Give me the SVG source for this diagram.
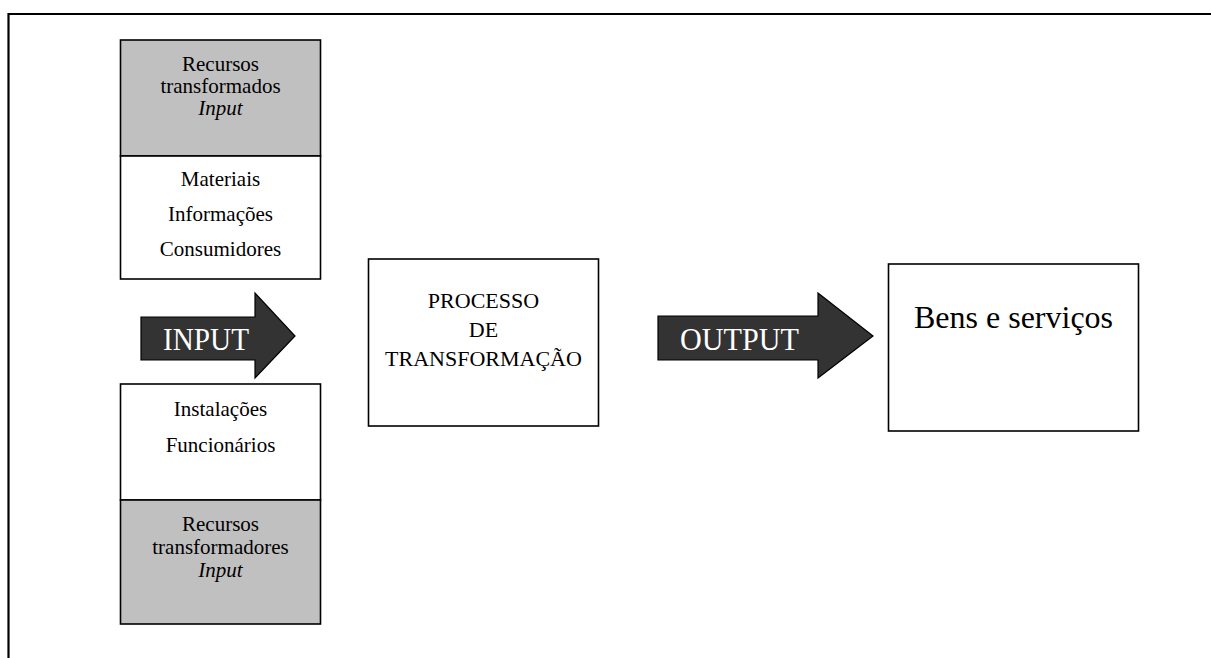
<svg xmlns="http://www.w3.org/2000/svg" width="1211" height="658" viewBox="0 0 1211 658" font-family="'Liberation Serif', 'DejaVu Serif', serif">
<style>
.box{stroke:#000;stroke-width:1.6;}
.w{fill:#fff;}
.g{fill:#c0c0c0;}
.arrow{fill:#333;stroke:#000;stroke-width:1.2;stroke-linejoin:miter;}
text{font-family:'Liberation Serif','DejaVu Serif',serif;fill:#000;text-anchor:middle;}
.s{font-size:21px;}
.m{font-size:22px;}
.big{font-size:32px;}
.lbl{font-size:32px;fill:#fff;text-anchor:start;}
</style>
<rect width="1211" height="658" fill="#fff"/>
<g id="frame">
<path d="M8.5,658 V14 H1211" fill="none" stroke="#000" stroke-width="2.2"/>
</g>
<g id="transformed-resources">
<rect class="box g" x="120.5" y="40" width="200" height="116"/>
<rect class="box w" x="120.5" y="156" width="200" height="123"/>
<text class="s" x="220.5" y="71">Recursos</text>
<text class="s" x="220.5" y="93">transformados</text>
<text class="s" x="220.5" y="115" font-style="italic">Input</text>
<text class="s" x="220.5" y="186">Materiais</text>
<text class="s" x="220.5" y="221">Informações</text>
<text class="s" x="220.5" y="256">Consumidores</text>
</g>
<g id="transforming-resources">
<rect class="box w" x="120.5" y="384" width="200" height="116"/>
<rect class="box g" x="120.5" y="500" width="200" height="124"/>
<text class="s" x="220.5" y="416">Instalações</text>
<text class="s" x="220.5" y="452">Funcionários</text>
<text class="s" x="220.5" y="531">Recursos</text>
<text class="s" x="220.5" y="554">transformadores</text>
<text class="s" x="220.5" y="577" font-style="italic">Input</text>
</g>
<g id="process">
<rect class="box w" x="368.5" y="259" width="230" height="167"/>
<text class="m" x="483.5" y="308">PROCESSO</text>
<text class="m" x="483.5" y="337">DE</text>
<text class="m" x="483.5" y="366">TRANSFORMAÇÃO</text>
</g>
<g id="goods">
<rect class="box w" x="888.5" y="264" width="250" height="167"/>
<text class="big" x="1013.5" y="328">Bens e serviços</text>
</g>
<g id="connectors">
<g id="input-arrow">
<path class="arrow" d="M141,317 H255 V293 L295,336 L255,378 V360 H141 Z"/>
<text class="lbl" x="163" y="350" textLength="86" lengthAdjust="spacingAndGlyphs">INPUT</text>
</g>
<g id="output-arrow">
<path class="arrow" d="M658,316 H818 V293 L873,336 L818,378 V360 H658 Z"/>
<text class="lbl" x="680" y="350" textLength="119" lengthAdjust="spacingAndGlyphs">OUTPUT</text>
</g>
</g>
</svg>
